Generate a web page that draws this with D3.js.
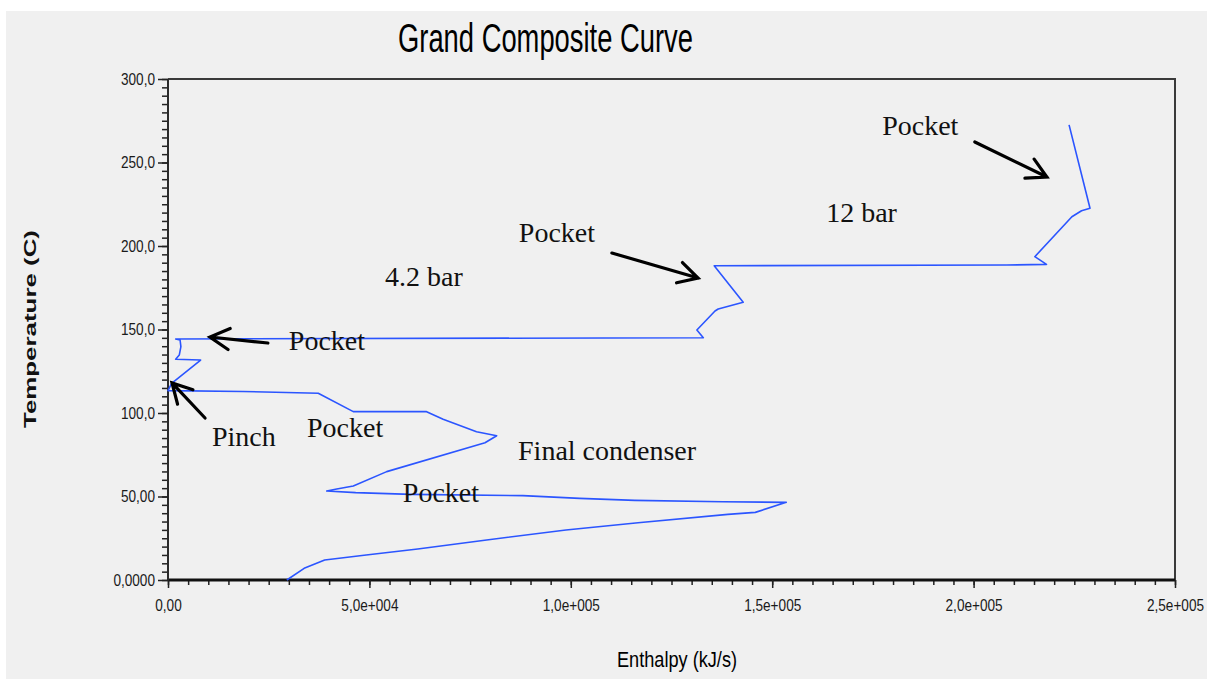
<!DOCTYPE html>
<html>
<head>
<meta charset="utf-8">
<script src="https://cdn.jsdelivr.net/npm/d3@7"></script>
<style>
	html, body { margin: 0; padding: 0; background: #ffffff; }
	svg { display: block; }
	.narrow { font-family: "Liberation Sans Narrow", "Arial Narrow", "Liberation Sans", sans-serif; font-stretch: condensed; }
	.note { font-family: "Liberation Serif", "Times New Roman", serif; font-size: 28px; fill: #111; }
</style>
</head>
<body>
<div id="chart"></div>
<script>
"use strict";

// grand composite curve (enthalpy kJ/s, temperature C)
var enthalpy = [223700, 228900, 226800, 224400, 215200, 218100, 208200, 135600,
	142800, 136600, 135800, 131300, 132900, 1900, 3000, 3200, 2800, 1900, 8100,
	900, 0, 18600, 37300, 46000, 64200, 68300, 76600, 81600, 78700, 54300,
	46000, 41900, 39400, 46600, 60300, 88100, 102200, 115900, 137700, 153500,
	145800, 139000, 116700, 98800, 79100, 62000, 49200, 38900, 33800, 29500];
var temperature = [272.5, 222.6, 221.1, 217.5, 193.6, 189.0, 188.6, 188.2,
	166.3, 162.3, 161.1, 149.7, 145.1, 144.3, 143.7, 139.7, 134.7, 132.2, 131.7,
	117.8, 113.4, 112.9, 111.8, 100.8, 100.8, 96.2, 88.8, 86.4, 82.2, 64.9,
	56.3, 54.5, 53.3, 52.3, 51.3, 50.5, 48.9, 47.7, 46.9, 46.5,
	40.5, 39.3, 34.3, 29.9, 24.0, 18.6, 15.0, 12.0, 7.0, 0];

// axis ticks
var hTicks = [0, 50000, 100000, 150000, 200000, 250000];
var hTickLabels = ["0,00", "5,0e+004", "1,0e+005", "1,5e+005", "2,0e+005", "2,5e+005"];
var tTicks = [0, 50, 100, 150, 200, 250, 300];
var tTickLabels = ["0,0000", "50,00", "100,0", "150,0", "200,0", "250,0", "300,0"];

// hand written notes (text, enthalpy, temperature)
var noteText = ["Pocket", "12 bar", "Pocket", "4.2 bar", "Pocket", "Pinch", "Pocket", "Final condenser", "Pocket"];
var noteH = [177300, 163400, 87100, 53900, 30000, 10900, 34500, 86900, 58300];
var noteT = [266.5, 214.4, 202.4, 176.0, 137.7, 80.2, 85.6, 71.9, 46.7];

// arrows: tail -> head
var arrowFromH = [200300, 110200, 24800, 9200];
var arrowFromT = [262.3, 195.8, 141.9, 97.0];
var arrowToH = [218200, 131600, 10400, 1000];
var arrowToT = [241.3, 180.8, 145.5, 118.0];

var width = 1207, height = 679;
var margin = {top: 79, right: 32, bottom: 98, left: 168};

var svg = d3.select("#chart").append("svg")
	.attr("width", width)
	.attr("height", height);

// grey panel
svg.append("rect")
	.attr("x", 6).attr("y", 11)
	.attr("width", width - 6).attr("height", height - 11)
	.attr("fill", "#f0f0f0");

var xScale = d3.scaleLinear().domain([0, 250000]).range([margin.left, width - margin.right]);
var yScale = d3.scaleLinear().domain([0, 300]).range([height - margin.bottom - 1, margin.top]);

// squeeze a text horizontally (no narrow font installed)
function squeeze(sel, k) {
	sel.each(function() {
		var w = this.getComputedTextLength();
		d3.select(this).attr("textLength", w * k).attr("lengthAdjust", "spacingAndGlyphs");
	});
}

// frame top + right
svg.append("path")
	.attr("d", "M" + xScale(0) + "," + yScale(300) + "H" + xScale(250000) + "V" + yScale(0))
	.attr("fill", "none")
	.attr("stroke", "#3a3a3a")
	.attr("stroke-width", 2);

//************ AXES ************

var xMinor = svg.append("g")
	.attr("transform", "translate(0," + yScale(0) + ")")
	.call(d3.axisBottom(xScale).tickValues(d3.range(0, 250001, 5000)).tickSize(5).tickFormat(""));
var xMajor = svg.append("g")
	.attr("transform", "translate(0," + yScale(0) + ")")
	.call(d3.axisBottom(xScale).tickValues(hTicks).tickSize(8).tickPadding(11)
		.tickFormat(function(d, i) { return hTickLabels[i]; }));

var yMinor = svg.append("g")
	.attr("transform", "translate(" + xScale(0) + ",0)")
	.call(d3.axisLeft(yScale).tickValues(d3.range(0, 301, 5)).tickSize(6).tickFormat(""));
var yMajor = svg.append("g")
	.attr("transform", "translate(" + xScale(0) + ",0)")
	.call(d3.axisLeft(yScale).tickValues(tTicks).tickSize(10).tickPadding(3)
		.tickFormat(function(d, i) { return tTickLabels[i]; }));

[xMinor, yMinor].forEach(function(g) { g.select(".domain").remove(); });
[xMinor, xMajor, yMinor, yMajor].forEach(function(g) {
	g.selectAll(".tick line").attr("stroke", "#222").attr("stroke-width", 1.5);
	g.selectAll("text")
		.attr("class", "narrow")
		.attr("font-size", 17)
		.attr("fill", "#1a1a1a")
		.call(squeeze, 0.8);
});
xMajor.select(".domain").attr("stroke", "#111").attr("stroke-width", 3).attr("d",
	"M" + xScale(0) + ",0H" + xScale(250000));
yMajor.select(".domain").attr("stroke", "#2a2a2a").attr("stroke-width", 2).attr("d",
	"M0," + yScale(0) + "V" + yScale(300));

//************ CURVE ************

var points = enthalpy.map(function(h, i) { return [h, temperature[i]]; });
var line = d3.line()
	.x(function(d) { return xScale(d[0]); })
	.y(function(d) { return yScale(d[1]); });

svg.append("path")
	.datum(points)
	.attr("d", line)
	.attr("fill", "none")
	.attr("stroke", "#2b55ff")
	.attr("stroke-width", 1.6)
	.attr("stroke-linejoin", "round");

//************ NOTES ************

svg.selectAll("text.note")
	.data(noteText)
	.enter().append("text")
	.attr("class", "note")
	.attr("x", function(d, i) { return xScale(noteH[i]); })
	.attr("y", function(d, i) { return yScale(noteT[i]); })
	.text(function(d) { return d; });

var arrows = svg.selectAll("g.arrow")
	.data(arrowFromH)
	.enter().append("g")
	.attr("class", "arrow");

arrows.append("path")
	.attr("d", function(d, i) {
		var x1 = xScale(arrowFromH[i]), y1 = yScale(arrowFromT[i]),
			x2 = xScale(arrowToH[i]), y2 = yScale(arrowToT[i]);
		var ang = Math.atan2(y2 - y1, x2 - x1), len = 22, spread = 0.5;
		var ax = x2 - len * Math.cos(ang - spread), ay = y2 - len * Math.sin(ang - spread),
			bx = x2 - len * Math.cos(ang + spread), by = y2 - len * Math.sin(ang + spread);
		return "M" + x1 + "," + y1 + "L" + x2 + "," + y2 +
			"M" + ax + "," + ay + "L" + x2 + "," + y2 + "L" + bx + "," + by;
	})
	.attr("fill", "none")
	.attr("stroke", "#000")
	.attr("stroke-width", 3.2)
	.attr("stroke-linecap", "round")
	.attr("stroke-linejoin", "miter");

//************ TITLES ************

svg.append("text")
	.attr("class", "narrow")
	.attr("x", 398).attr("y", 52)
	.attr("font-size", 41)
	.attr("textLength", 295)
	.attr("lengthAdjust", "spacingAndGlyphs")
	.attr("fill", "#000")
	.text("Grand Composite Curve");

svg.append("text")
	.attr("class", "narrow")
	.attr("x", 617).attr("y", 667)
	.attr("font-size", 22)
	.attr("textLength", 120)
	.attr("lengthAdjust", "spacingAndGlyphs")
	.attr("fill", "#000")
	.text("Enthalpy (kJ/s)");

svg.append("text")
	.attr("transform", "translate(36,428) rotate(-90)")
	.attr("font-family", "Liberation Sans, Arial, sans-serif")
	.attr("font-weight", "bold")
	.attr("font-size", 17)
	.attr("textLength", 198)
	.attr("lengthAdjust", "spacingAndGlyphs")
	.attr("fill", "#111")
	.text("Temperature (C)");
</script>
</body>
</html>
